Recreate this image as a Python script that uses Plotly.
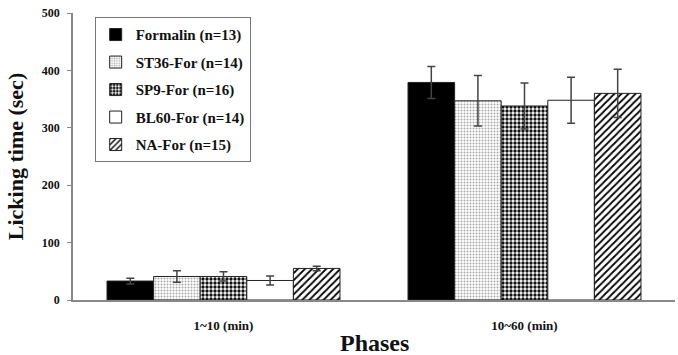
import plotly.graph_objects as go

phases = ["1~10 (min)", "10~60 (min)"]
groups = ["Formalin (n=13)", "ST36-For (n=14)", "SP9-For (n=16)", "BL60-For (n=14)", "NA-For (n=15)"]
formalin = [33, 379]
st36 = [41, 347]
sp9 = [41, 338]
bl60 = [34, 348]
na = [55, 360]
formalin_err = [5, 28]
st36_err = [10, 44]
sp9_err = [8, 40]
bl60_err = [8, 40]
na_err = [4, 42]
x_title = "Phases"

values = [formalin, st36, sp9, bl60, na]
errors = [formalin_err, st36_err, sp9_err, bl60_err, na_err]

patterns = [
    dict(shape="", fgcolor="black", bgcolor="black"),
    dict(shape=".", fgcolor="#aaaaaa", bgcolor="white", size=3, solidity=0.35, fillmode="replace"),
    dict(shape=".", fgcolor="#111111", bgcolor="white", size=4, solidity=0.55, fillmode="replace"),
    dict(shape="", fgcolor="white", bgcolor="white"),
    dict(shape="/", fgcolor="black", bgcolor="white", size=5, solidity=0.35, fillmode="replace"),
]
colors = ["black", "white", "white", "white", "white"]

font_family = "Liberation Serif"

fig = go.Figure()
for i, (name, vals, errs) in enumerate(zip(groups, values, errors)):
    fig.add_trace(go.Bar(
        x=phases, y=vals, name=name, legendgroup=name,
        marker=dict(color=colors[i], line=dict(color="#222222", width=1), pattern=patterns[i]),
        error_y=dict(type="data", array=errs, visible=True, color="#444444", thickness=1.5, width=4),
    ))

fig.add_annotation(
    text=x_title, xref="paper", yref="paper", x=0.5, y=-0.098,
    xanchor="center", yanchor="top", showarrow=False,
    font=dict(family=font_family, size=24, weight="bold", color="#111111"),
)

fig.update_layout(
    width=678, height=355,
    margin=dict(l=73, r=3, t=13, b=55),
    paper_bgcolor="white", plot_bgcolor="white",
    barmode="group", bargap=0.226, bargroupgap=0,
    font=dict(family=font_family, color="#111111"),
    showlegend=True,
    legend=dict(
        x=0.036, y=0.985, xanchor="left", yanchor="top",
        bordercolor="#777777", borderwidth=1, bgcolor="white",
        font=dict(family=font_family, size=15, color="#111111", weight="bold"),
        tracegroupgap=5, itemwidth=30,
    ),
    xaxis=dict(
        showline=True, linecolor="#888888", linewidth=1.5, automargin=False,
        ticks="", tickfont=dict(family=font_family, size=13, weight="bold"),
        ticklabelstandoff=13,
        range=[-0.5, 1.5],
    ),
    yaxis=dict(
        range=[0, 500], dtick=100, showline=True, linecolor="#888888", linewidth=1.5,
        ticks="outside", ticklen=4, tickcolor="#888888", showgrid=False, zeroline=False,
        automargin=False,
        tickfont=dict(family=font_family, size=12, weight="bold"),
        ticklabelstandoff=5,
        title=dict(text="Licking time (sec)", font=dict(family=font_family, size=22, weight="bold"), standoff=12),
    ),
)

fig.write_html("out.html")
